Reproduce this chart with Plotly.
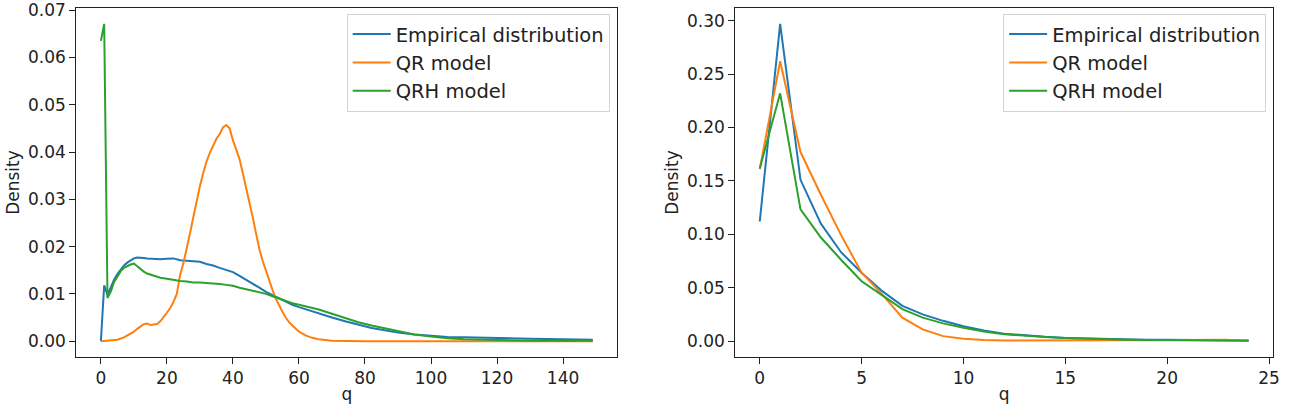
import plotly.graph_objects as go

# ---------------- Left panel data ----------------
emp_q = [0, 1, 2, 3, 4, 5, 6, 7, 8, 9, 10, 11, 12, 13, 14, 16, 18, 20, 22, 24, 26, 28, 30,
         32, 34, 36, 38, 40, 42, 44, 46, 48, 50, 52, 54, 56, 58, 60, 63, 66, 70, 74, 78,
         82, 86, 90, 95, 100, 105, 110, 115, 120, 130, 140, 149]
emp_d = [0.0, 0.0118, 0.0098, 0.0116, 0.0130, 0.0142, 0.0152, 0.0160, 0.0166, 0.0171, 0.0175,
         0.0177, 0.0177, 0.0176, 0.0175, 0.0174, 0.0173, 0.0174, 0.0175, 0.0171, 0.0170, 0.0170,
         0.0168, 0.0163, 0.0160, 0.0155, 0.0150, 0.0146, 0.0138, 0.0130, 0.0122, 0.0113, 0.0104,
         0.0097, 0.0090, 0.0083, 0.0077, 0.0072, 0.0065, 0.0058, 0.0050, 0.0042, 0.0035, 0.0028,
         0.0023, 0.0018, 0.0014, 0.0011, 0.0009, 0.0008, 0.0007, 0.0006, 0.0005, 0.0004, 0.0003]

qr_q = [0, 3, 5, 7, 9, 10, 11, 12, 13, 14, 15, 16, 17, 18, 19, 20, 21, 22, 23, 24, 25, 26, 27,
        28, 29, 30, 31, 32, 33, 34, 35, 36, 37, 38, 39, 40, 41, 42, 43, 44, 45, 46, 47, 48, 49,
        50, 51, 52, 53, 54, 55, 56, 57, 58, 59, 60, 62, 64, 66, 70, 80, 100, 120, 149]
qr_d = [0.0, 0.0001, 0.0003, 0.0008, 0.0015, 0.0020, 0.0026, 0.0032, 0.0036, 0.0037, 0.0034,
        0.0035, 0.0036, 0.0042, 0.0050, 0.0060, 0.0070, 0.0083, 0.0100, 0.0140, 0.0165, 0.0195,
        0.0228, 0.0262, 0.0297, 0.0328, 0.0355, 0.0380, 0.0398, 0.0415, 0.0428, 0.0438, 0.0452,
        0.0457, 0.0450, 0.0425, 0.0405, 0.0385, 0.0355, 0.0325, 0.0292, 0.0262, 0.0228, 0.0195,
        0.0170, 0.0148, 0.0128, 0.0108, 0.0090, 0.0075, 0.0062, 0.0050, 0.0040, 0.0033, 0.0026,
        0.0020, 0.0012, 0.0007, 0.0004, 0.0001, 0.0, 0.0, 0.0, 0.0]

qrh_q = [0, 1, 2, 3, 4, 5, 6, 7, 8, 9, 10, 11, 12, 13, 14, 16, 18, 20, 22, 24, 26, 28, 30, 32,
         34, 36, 38, 40, 42, 44, 46, 48, 50, 52, 54, 56, 58, 60, 63, 66, 70, 74, 78, 82, 86,
         90, 95, 100, 105, 110, 115, 120, 130, 149]
qrh_d = [0.0635, 0.0671, 0.0091, 0.0105, 0.0125, 0.0138, 0.0148, 0.0155, 0.0159, 0.0162, 0.0164,
         0.0158, 0.0152, 0.0147, 0.0143, 0.0138, 0.0134, 0.0132, 0.0129, 0.0127, 0.0126, 0.0124,
         0.0124, 0.0123, 0.0123, 0.0121, 0.0119, 0.0117, 0.0113, 0.0110, 0.0107, 0.0104, 0.0100,
         0.0095, 0.0090, 0.0085, 0.0080, 0.0077, 0.0072, 0.0067, 0.0058, 0.0049, 0.0040, 0.0033,
         0.0027, 0.0021, 0.0014, 0.0010, 0.0006, 0.0004, 0.0003, 0.0002, 0.0001, 0.0001]

# ---------------- Right panel data ----------------
r_emp_q = list(range(0, 25))
r_emp_d = [0.112, 0.297, 0.151, 0.110, 0.083, 0.064, 0.047, 0.033, 0.025, 0.019, 0.014, 0.010,
           0.007, 0.0053, 0.004, 0.003, 0.0025, 0.002, 0.0017, 0.0014, 0.0012, 0.001, 0.0008,
           0.0006, 0.0005]
r_qr_q = list(range(0, 24))
r_qr_d = [0.161, 0.262, 0.177, 0.137, 0.099, 0.064, 0.044, 0.022, 0.011, 0.0047, 0.0022, 0.001,
          0.0006, 0.0005, 0.0005, 0.0006, 0.0007, 0.0008, 0.0009, 0.001, 0.0011, 0.0012, 0.0012,
          0.0012]
r_qrh_q = list(range(0, 25))
r_qrh_d = [0.1616, 0.232, 0.1234, 0.097, 0.076, 0.056, 0.043, 0.030, 0.022, 0.0166, 0.0125, 0.009,
           0.0065, 0.005, 0.0038, 0.003, 0.0023, 0.0018, 0.0014, 0.0011, 0.0009, 0.0007, 0.0005,
           0.0004, 0.0003]

names = ["Empirical distribution", "QR model", "QRH model"]
colors = ["#1f77b4", "#ff7f0e", "#2ca02c"]

FONT = "DejaVu Sans"
FS = 17
LFS = 19.5
TXT = "#222222"

fig = go.Figure()
left = [(emp_q, emp_d), (qr_q, qr_d), (qrh_q, qrh_d)]
right = [(r_emp_q, r_emp_d), (r_qr_q, r_qr_d), (r_qrh_q, r_qrh_d)]
for (x, y), n, c in zip(left, names, colors):
    fig.add_trace(go.Scatter(x=x, y=y, mode="lines", name=n, line=dict(color=c, width=2),
                             xaxis="x", yaxis="y", legend="legend"))
for (x, y), n, c in zip(right, names, colors):
    fig.add_trace(go.Scatter(x=x, y=y, mode="lines", name=n, line=dict(color=c, width=2),
                             xaxis="x2", yaxis="y2", legend="legend2"))

W, H = 1300, 415
axis_common = dict(showgrid=False, zeroline=False, showline=True, linecolor="#222222",
                   linewidth=1, mirror=True, ticks="outside", ticklen=6, tickwidth=1,
                   tickcolor="#222222", ticklabeloverflow="allow",
                   tickfont=dict(family=FONT, size=FS, color=TXT))

legend_common = dict(font=dict(family=FONT, size=LFS, color=TXT), bgcolor="rgba(255,255,255,0.85)",
                     bordercolor="#d4d4d4", borderwidth=1, xanchor="right", yanchor="top",
                     itemwidth=38, y=1 - 6 / 352)

title_font = dict(family=FONT, size=FS, color=TXT)

fig.update_layout(
    width=W, height=H, margin=dict(l=0, r=0, t=5, b=58),
    paper_bgcolor="white", plot_bgcolor="white",
    font=dict(family=FONT, size=FS, color=TXT),
    xaxis=dict(domain=[76.7 / W, 620.7 / W], range=[-7.45, 156.45], tickvals=[0, 20, 40, 60, 80, 100, 120, 140],
               title=dict(text="q", font=title_font, standoff=0),
               anchor="y", **axis_common),
    yaxis=dict(domain=[0, 1], range=[-0.003355, 0.070455], tickvals=[0, 0.01, 0.02, 0.03, 0.04, 0.05, 0.06, 0.07],
               tickformat=".2f",
               title=dict(text="Density", font=title_font, standoff=4),
               anchor="x", **axis_common),
    xaxis2=dict(domain=[739.3 / W, 1280 / W], range=[-1.2, 25.2], tickvals=[0, 5, 10, 15, 20, 25],
                title=dict(text="q", font=title_font, standoff=0),
                anchor="y2", **axis_common),
    yaxis2=dict(domain=[0, 1], range=[-0.01485, 0.31185], tickvals=[0, 0.05, 0.10, 0.15, 0.20, 0.25, 0.30],
                tickformat=".2f",
                title=dict(text="Density", font=title_font, standoff=4),
                anchor="x2", **axis_common),
    legend=dict(x=613 / W, **legend_common),
    legend2=dict(x=1273 / W, **legend_common),
)

fig.write_html("out.html")
